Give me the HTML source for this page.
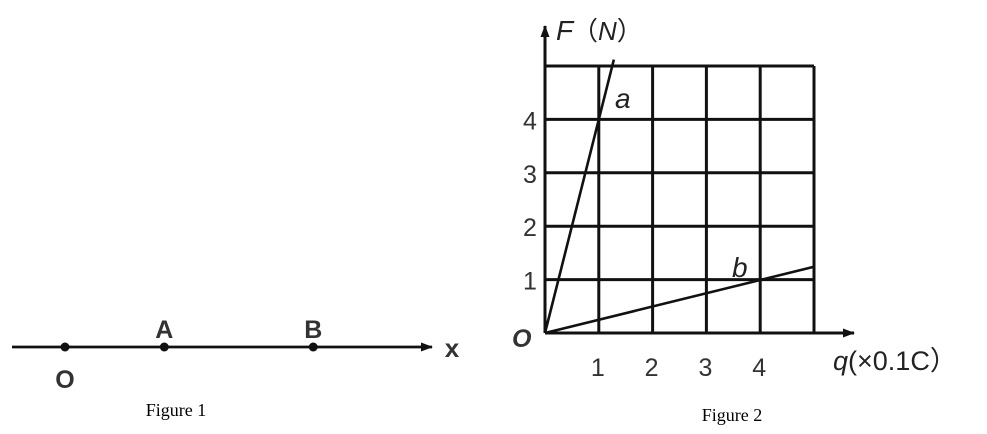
<!DOCTYPE html>
<html><head><meta charset="utf-8"><style>
body{margin:0;background:#fff;}
svg{display:block;font-family:"Liberation Sans","Noto Sans CJK SC",sans-serif;}
</style></head><body>
<svg width="987" height="434" viewBox="0 0 987 434">
<defs><marker id="ar" markerWidth="12" markerHeight="9" refX="11" refY="4.5" orient="auto" markerUnits="userSpaceOnUse"><path d="M0,0 L12,4.5 L0,9 Z" fill="#111"/></marker></defs>
<g>
<line x1="12" y1="347" x2="432" y2="347" stroke="#111" stroke-width="2.8" marker-end="url(#ar)"/>
<text x="452" y="357" font-size="26" font-weight="bold" fill="#333" text-anchor="middle">x</text>
<g id="pts"></g>
<text x="176" y="416" font-family="Liberation Serif,serif" font-size="18" text-anchor="middle">Figure 1</text>
</g>
<g id="fig2">
<text x="556" y="40" font-size="28" font-style="italic" fill="#222">F</text>
<text x="572" y="40" font-size="26" fill="#222">（<tspan font-style="italic">N</tspan>）</text>
<text x="833" y="370" font-size="27" fill="#222"><tspan font-style="italic">q</tspan>(×0.1C）</text>
<text x="512" y="347" font-size="25" font-style="italic" font-weight="bold" fill="#333">O</text>
<text x="732" y="421" font-family="Liberation Serif,serif" font-size="18" text-anchor="middle">Figure 2</text>
</g>
</svg>
<script>
const pointNames=["O","A","B"];
const pointPos=[0,1,2.5];
const xTicks=[1,2,3,4];
const yTicks=[1,2,3,4];
const lineA=[[0,0],[1.28,5.12]];
const lineB=[[0,0],[5,1.24]];
const ns="http://www.w3.org/2000/svg";
function mk(t,a,p){const e=document.createElementNS(ns,t);for(const k in a)e.setAttribute(k,a[k]);p.appendChild(e);return e;}
const px=v=>65+v*99.3;
const pts=document.getElementById('pts');
pointNames.forEach((n,i)=>{
 const c=mk('circle',{cx:px(pointPos[i]),cy:347,r:4.5,fill:'#111'},pts);
 
 
 const t=mk('text',{x:px(pointPos[i]),y:i==0?388:338,'font-size':25,'font-weight':'bold',fill:'#333','text-anchor':'middle'},pts);
 
 
 t.textContent=n;
});
const g=document.getElementById('fig2');
const X=q=>545+q*53.8, Y=f=>333-f*53.4;
for(let i=0;i<=5;i++){
 const v=mk('line',{x1:X(i),y1:Y(0),x2:X(i),y2:Y(5),stroke:'#111','stroke-width':3},g);
 
 
 const h=mk('line',{x1:X(0),y1:Y(i),x2:X(5),y2:Y(i),stroke:'#111','stroke-width':3},g);
 
 
}
const ya=mk('line',{x1:X(0),y1:Y(0),x2:X(0),y2:26,stroke:'#111','stroke-width':3,'marker-end':'url(#ar)'},g);


const xa=mk('line',{x1:X(0),y1:Y(0),x2:854,y2:Y(0),stroke:'#111','stroke-width':3,'marker-end':'url(#ar)'},g);


xTicks.forEach(v=>{const t=mk('text',{x:X(v)-1,y:376,'font-size':25,fill:'#333','text-anchor':'middle'},g);
 
 
 t.textContent=v;});
yTicks.forEach(v=>{const t=mk('text',{x:530,y:Y(v)+10,'font-size':25,fill:'#333','text-anchor':'middle'},g);
 
 
 t.textContent=v;});
[[lineA,'line-a','a',[615,108]],[lineB,'line-b','b',[732,277]]].forEach(([d,n,l,p])=>{
 const e=mk('line',{x1:X(d[0][0]),y1:Y(d[0][1]),x2:X(d[1][0]),y2:Y(d[1][1]),stroke:'#111','stroke-width':2.6},g);
 
 
 const t=mk('text',{x:p[0],y:p[1],'font-size':28,'font-style':'italic',fill:'#222'},g);
 
 
 t.textContent=l;
});
</script>
</body></html>
